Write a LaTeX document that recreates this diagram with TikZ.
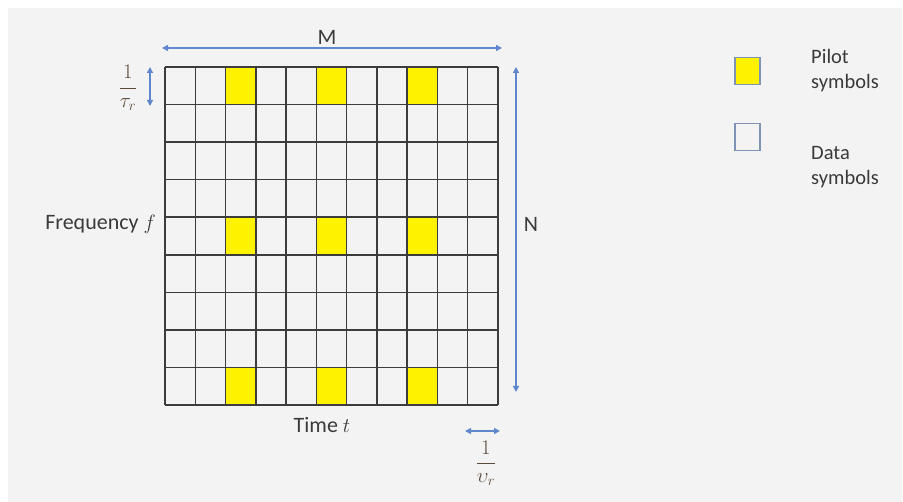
\documentclass[tikz,border=0pt]{standalone}
\usepackage{fontspec}
\setmainfont{Carlito}
\usetikzlibrary{arrows.meta}
\definecolor{bgray}{HTML}{F3F3F3}
\definecolor{txt}{HTML}{3A3A3A}
\definecolor{arrblue}{HTML}{4472C4}
\definecolor{gridc}{HTML}{3C3C3C}
\definecolor{legbd}{HTML}{7F93B5}
\definecolor{mathc}{HTML}{5B4A3A}
\tikzset{
  lbl/.style={text=txt, font=\fontsize{22}{26}\selectfont, inner sep=0pt},
  legtxt/.style={text=txt, font=\fontsize{20.5}{25}\selectfont, align=left, inner sep=0pt, anchor=west},
  frac/.style={text=mathc, font=\fontsize{21}{24}\selectfont, inner sep=0pt},
  dimarrow/.style={draw=arrblue!85, line width=1.3pt, {Triangle[length=6pt,width=6pt]}-{Triangle[length=6pt,width=6pt]}},
  legbox/.style={draw=legbd, line width=1.4pt, minimum width=25pt, minimum height=27pt, inner sep=0pt}
}
\begin{document}
\begin{tikzpicture}[x=1pt,y=-1pt]
\useasboundingbox (0,0) rectangle (903,502);
\fill[white] (0,0) rectangle (903,502);
\fill[bgray] (8,8) rectangle (902,502);
% grid geometry
\def\gx{165}\def\gy{67}\def\cw{30.2727}\def\rh{37.5556}
% pilots
\foreach \c in {2,5,8}{
  \foreach \r in {0,4,8}{
    \fill[yellow] ({\gx+\c*\cw},{\gy+\r*\rh}) rectangle ({\gx+(\c+1)*\cw},{\gy+(\r+1)*\rh});
  }
}
% grid lines
\foreach \c in {0,...,11}{
  \draw[gridc, line width=1.5pt] ({\gx+\c*\cw},\gy) -- ({\gx+\c*\cw},{\gy+9*\rh});
}
\foreach \r in {0,...,9}{
  \draw[gridc, line width=1.5pt] (\gx,{\gy+\r*\rh}) -- ({\gx+11*\cw},{\gy+\r*\rh});
}
% dimension arrows
\coordinate (mL) at (162,48); \coordinate (mR) at (502,48);
\draw[dimarrow] (mL) -- (mR);
\node[lbl] (M) at (327,37) {M};
\coordinate (nT) at (516,67); \coordinate (nB) at (516,392);
\draw[dimarrow] (nT) -- (nB);
\node[lbl] (N) at (531,224) {N};
\coordinate (tT) at (150,67); \coordinate (tB) at (150,106);
\draw[dimarrow] (tT) -- (tB);
\node[frac] (tau) at (128,88) {$\displaystyle\frac{1}{\tau_r}$};
\coordinate (vL) at (465,431); \coordinate (vR) at (500,431);
\draw[dimarrow] (vL) -- (vR);
\node[frac] (nu) at (486,463) {$\displaystyle\frac{1}{\upsilon_r}$};
% axis labels
\node[lbl, anchor=east] (freq) at (156,224) {Frequency $f$};
\node[lbl] (time) at (322,425) {Time $t$};
% legend
\node[legbox, fill=yellow] (lp) at (747.5,71) {};
\node[legtxt] (lpt) at (811,71) {Pilot\\symbols};
\node[legbox, fill=bgray] (ld) at (747.5,137) {};
\node[legtxt] (ldt) at (811,167) {Data\\symbols};
\end{tikzpicture}
\end{document}
